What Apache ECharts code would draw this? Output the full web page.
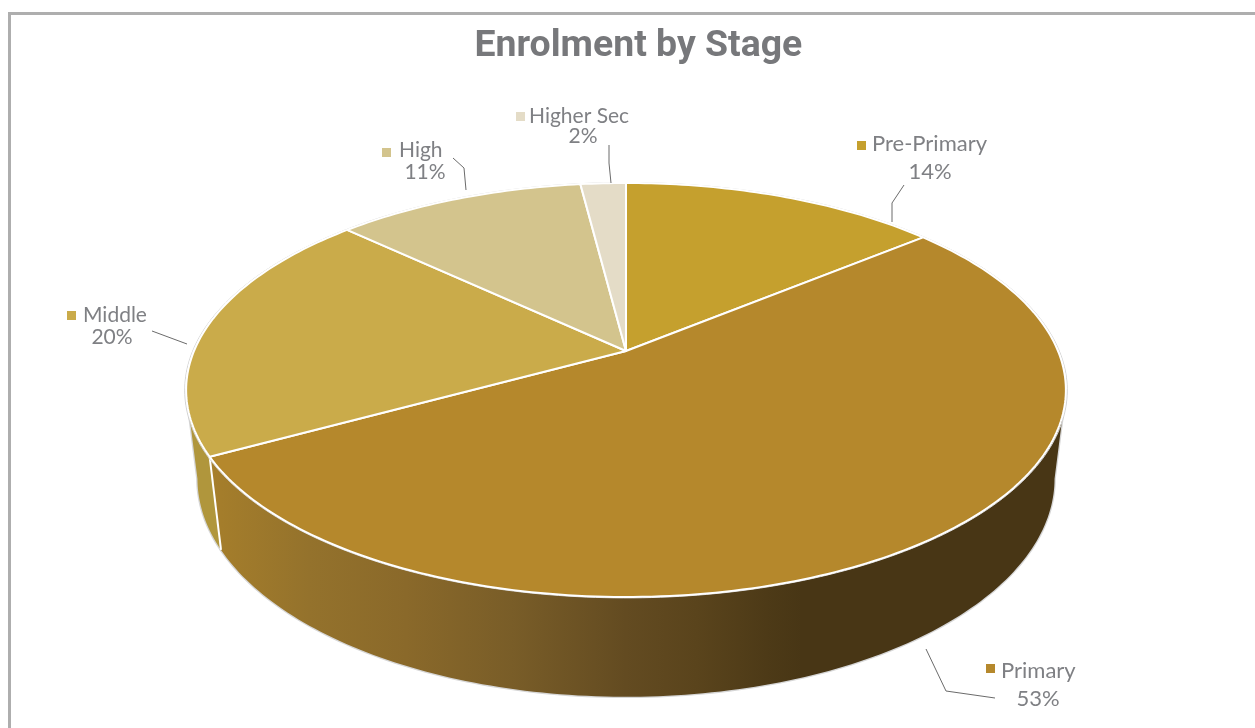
<!DOCTYPE html>
<html>
<head>
<meta charset="utf-8">
<style>html,body{margin:0;padding:0;background:#fff}#c{width:1255px;height:728px}</style>
<script src="https://cdn.jsdelivr.net/npm/echarts@6/dist/echarts.min.js"></script>
</head>
<body>
<div id="c"></div>
<script>
// ---- data ----
const stages = ['Pre-Primary', 'Primary', 'Middle', 'High', 'Higher Sec'];
const shares = [14, 53, 20, 11, 2];
const chartTitle = 'Enrolment by Stage';

// ---- styles ----
const topColors = ['#C5A02E', '#B5882C', '#CAAB4A', '#D3C48D', '#E4DCC7'];
const wallColors = ['#8E7626', '#000', '#B0963C', '#A89A6C', '#B5AF9C'];
const textColor = '#7F8084';
const leaderColor = '#6B6B6B';
const primaryWallStops = [
  [0.00, '#B0862E'], [0.04, '#A47D2B'], [0.14, '#94722C'], [0.25, '#8A692A'],
  [0.37, '#795D28'], [0.50, '#634B21'], [0.58, '#5A441C'], [0.66, '#4D3A17'],
  [0.70, '#483615'], [1.00, '#483615']
];
// perspective projection of the pie disc
const cam = { cx: 626, cy: 351, f: 432, g: 199.65, k: 0.1884, m: 0.0255, c: 89.8 };
const wallSpan = [186, 1066];
// label placement
const labelLayout = [
  { size: 22, key: [857, 141], name: [872, 144], pct: [930, 172], leader: [[904, 185], [892, 203], [892, 222]] },
  { size: 22, key: [986, 664], name: [1001, 671], pct: [1038, 699], leader: [[926, 649], [946, 691], [995, 698]] },
  { size: 21, key: [67, 311], name: [83, 315], pct: [112, 337], leader: [[152, 331], [187, 344]] },
  { size: 21, key: [382, 148], name: [399, 150], pct: [425, 172], leader: [[453, 158], [464, 168], [466, 190]] },
  { size: 21, key: [516, 112], name: [529, 116], pct: [583, 136], leader: [[609, 145], [609, 163], [611, 183]] }
];

// ---- geometry ----
const total = shares.reduce((a, b) => a + b, 0);
const starts = shares.map((_, i) => shares.slice(0, i).reduce((a, b) => a + b, 0) / total);
function project(frac, r, z) {
  const t = frac * 2 * Math.PI;
  const u = r * Math.sin(t), v = r * Math.cos(t);
  const d = 1 + cam.k * v + cam.m * z;
  return [cam.cx + cam.f * u / d, cam.cy + (-cam.g * v + cam.c * z) / d];
}
function rim(a, b, r, z) {
  const n = Math.max(4, Math.ceil((b - a) * 360));
  const pts = [];
  for (let i = 0; i <= n; i++) pts.push(project(a + (b - a) * i / n, r, z));
  return pts;
}
// rightmost point of a rim; the leftmost is its mirror image
function tangentFrac(z) {
  return Math.acos(-cam.k / (1 + cam.m * z)) / (2 * Math.PI);
}
const seriesData = stages.map((s, i) => ({ name: s, value: [i, shares[i]] }));

function wallOutline(a, b) {
  const t0 = tangentFrac(0), t1 = tangentFrac(1);
  const a0 = Math.max(a, t0), b0 = Math.min(b, 1 - t0);
  const a1 = Math.max(a, t1), b1 = Math.min(b, 1 - t1);
  if (b0 <= a0 || b1 <= a1) return null;
  return rim(a0, b0, 1, 0).concat(rim(a1, b1, 1, 1).reverse());
}
function renderWallEdge(params, api) {
  const i = api.value(0), a = starts[i], b = a + api.value(1) / total;
  const pts = wallOutline(a, b);
  if (!pts) return null;
  return { type: 'polygon', shape: { points: pts }, style: { fill: '#D6D6D6', stroke: '#D6D6D6', lineWidth: 2.6, lineJoin: 'round' } };
}
function renderWall(params, api) {
  const i = api.value(0), a = starts[i], b = a + api.value(1) / total;
  const pts = wallOutline(a, b);
  if (!pts) return null;
  const fill = i === 1
    ? new echarts.graphic.LinearGradient(wallSpan[0], 0, wallSpan[1], 0, primaryWallStops.map(s => ({ offset: s[0], color: s[1] })), true)
    : wallColors[i];
  return { type: 'polygon', shape: { points: pts }, style: { fill: fill } };
}
function renderSeams(params, api) {
  const i = api.value(0), a = starts[i] + api.value(1) / total;
  const p = project(a, 1, 0), q = project(a, 1, 1);
  return { type: 'line', shape: { x1: p[0], y1: p[1], x2: q[0], y2: q[1] }, style: { stroke: '#fff', lineWidth: 2 } };
}
function renderTop(params, api) {
  const i = api.value(0), a = starts[i], b = a + api.value(1) / total;
  const centre = project(0, 0, 0);
  return {
    type: 'group',
    children: [
      { type: 'polyline', shape: { points: rim(a, b, 1.003, 0) }, style: { fill: null, stroke: '#D0D0D0', lineWidth: 1 } },
      { type: 'polygon', shape: { points: [centre].concat(rim(a, b, 1, 0)) }, style: { fill: topColors[i], stroke: '#fff', lineWidth: 2, lineJoin: 'round' } }
    ]
  };
}
function renderLabel(params, api) {
  const i = api.value(0), L = labelLayout[i];
  const font = { fontFamily: 'Lato', fontSize: L.size, fill: textColor, textVerticalAlign: 'middle' };
  return {
    type: 'group',
    children: [
      { type: 'polyline', shape: { points: L.leader }, style: { fill: null, stroke: leaderColor, lineWidth: 1 } },
      { type: 'rect', shape: { x: L.key[0], y: L.key[1], width: 9, height: 9 }, style: { fill: topColors[i] } },
      { type: 'text', style: Object.assign({ text: stages[i], x: L.name[0], y: L.name[1], textAlign: 'left' }, font) },
      { type: 'text', style: Object.assign({ text: api.value(1) + '%', x: L.pct[0], y: L.pct[1], textAlign: 'center' }, font) }
    ]
  };
}

const chart = echarts.init(document.getElementById('c'), null, { renderer: 'canvas', width: 1255, height: 728 });
const custom = (fn, z, data) => ({ type: 'custom', coordinateSystem: 'none', clip: false, silent: true, data: data || seriesData, renderItem: fn, z: z });
chart.setOption({
  animation: false,
  backgroundColor: '#fff',
  title: {
    text: chartTitle, left: 469.5, top: 23,
    textStyle: { fontFamily: 'Roboto', fontWeight: 'bold', fontSize: 37.4, color: '#77787B' }
  },
  graphic: [{
    type: 'rect', silent: true, z: -1,
    shape: { x: 9.5, y: 13.5, width: 1400, height: 900 },
    style: { fill: '#fff', stroke: '#AEAEAE', lineWidth: 3 }
  }],
  series: [
    custom(renderWallEdge, 1),
    custom(renderWall, 2),
    custom(renderSeams, 3, seriesData.slice(1, 2)),
    custom(renderTop, 4),
    custom(renderLabel, 5)
  ]
});
</script>
</body>
</html>
